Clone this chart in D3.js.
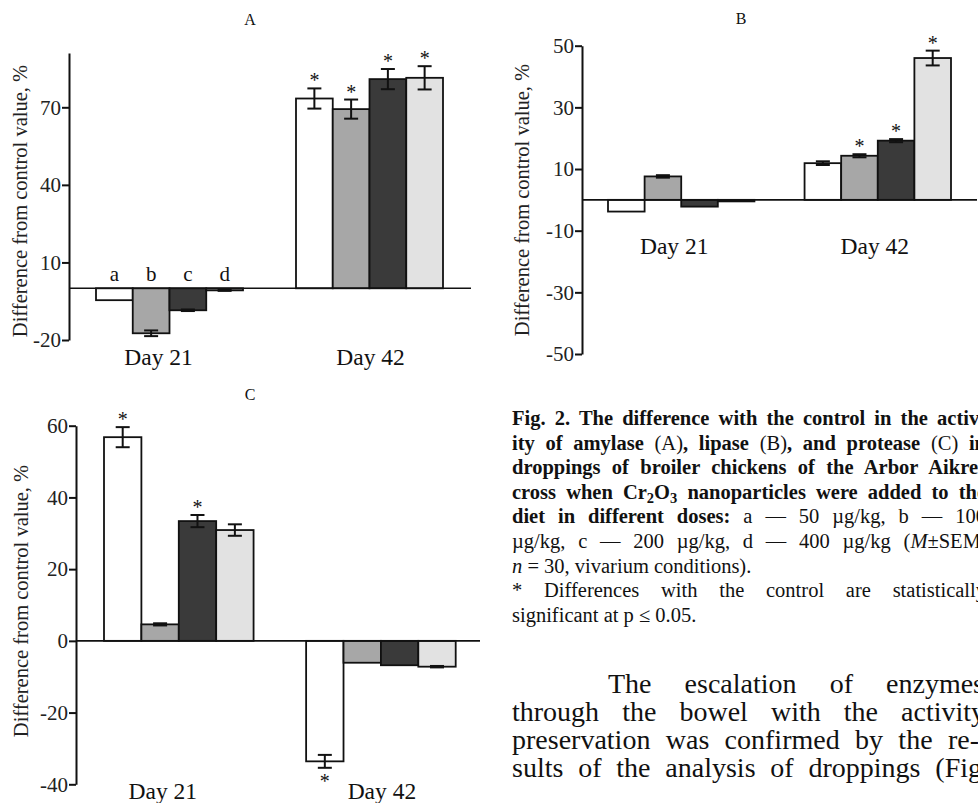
<!DOCTYPE html>
<html>
<head>
<meta charset="utf-8">
<script src="https://cdn.jsdelivr.net/npm/d3@7"></script>
<style>
  body { margin: 0; background: #fff; }
  svg { display: block; font-family: "Liberation Serif", "Times New Roman", serif; }
</style>
</head>
<body>
<svg id="fig" width="978" height="803"></svg>
<script>

// --- data (difference from control, %) ---
const days = ["Day 21", "Day 42"];
const groups = ["a", "b", "c", "d"];
const fills = ["#ffffff", "#a7a7a7", "#3a3a3a", "#e2e2e2"];

// amylase (A)
const amylaseMean = [[-4.6, -17.4, -8.5, -0.8], [73.4, 69.3, 80.9, 81.4]];
const amylaseSem  = [[0, 1.1, 0.3, 0.2], [3.9, 3.7, 3.9, 4.5]];
const amylaseSig  = [[0, 0, 0, 0], [1, 1, 1, 1]];
const amylaseTicks = [70, 40, 10, -20];

// lipase (B)
const lipaseMean = [[-3.8, 7.6, -2.2, -0.5], [11.9, 14.3, 19.2, 46.0]];
const lipaseSem  = [[0, 0.4, 0, 0], [0.6, 0.5, 0.5, 2.4]];
const lipaseSig  = [[0, 0, 0, 0], [0, 1, 1, 1]];
const lipaseTicks = [50, 30, 10, -10, -30, -50];

// protease (C)
const proteaseMean = [[56.8, 4.6, 33.4, 30.9], [-33.6, -6.1, -6.8, -7.2]];
const proteaseSem  = [[2.8, 0.3, 1.7, 1.6], [1.8, 0, 0, 0.2]];
const proteaseSig  = [[1, 0, 1, 0], [1, 0, 0, 0]];
const proteaseTicks = [60, 40, 20, 0, -20, -40];

const svg = d3.select("#fig");
const ink = "#111";
const serif = "'Liberation Serif', 'Times New Roman', serif";

const drawPanel = (cfg) => {

  const g = svg.append("g").attr("font-family", serif);

  const y = d3.scaleLinear().domain(cfg.yDomain).range(cfg.yRange);
  const x0 = d3.scaleBand().domain(days).range(cfg.xRange).paddingInner(cfg.padInner);
  const x1 = d3.scaleBand().domain(groups).range([0, x0.bandwidth()]);

  const rows = [];
  days.forEach((day, i) => groups.forEach((grp, j) => {
    rows.push({ day, grp, j, v: cfg.mean[i][j], e: cfg.sem[i][j], s: cfg.sig[i][j] });
  }));
  const cx = d => x0(d.day) + x1(d.grp) + x1.bandwidth() / 2;

  // bars
  g.selectAll("rect.bar")
    .data(rows)
    .join("rect")
      .attr("class", "bar")
      .attr("x", d => x0(d.day) + x1(d.grp))
      .attr("width", x1.bandwidth())
      .attr("y", d => y(Math.max(0, d.v)))
      .attr("height", d => Math.abs(y(d.v) - y(0)))
      .attr("fill", d => fills[d.j])
      .attr("stroke", ink)
      .attr("stroke-width", 1.8);

  // error bars (mean +/- SEM)
  const err = g.selectAll("g.err")
    .data(rows.filter(d => d.e > 0))
    .join("g")
      .attr("class", "err")
      .attr("stroke", ink)
      .attr("stroke-width", 2);

  err.append("line")
    .attr("x1", cx).attr("x2", cx)
    .attr("y1", d => y(d.v + d.e)).attr("y2", d => y(d.v - d.e));
  err.append("line")
    .attr("x1", d => cx(d) - 7).attr("x2", d => cx(d) + 7)
    .attr("y1", d => y(d.v + d.e)).attr("y2", d => y(d.v + d.e));
  err.append("line")
    .attr("x1", d => cx(d) - 7).attr("x2", d => cx(d) + 7)
    .attr("y1", d => y(d.v - d.e)).attr("y2", d => y(d.v - d.e));

  // significance stars
  g.selectAll("text.star")
    .data(rows.filter(d => d.s))
    .join("text")
      .attr("class", "star")
      .attr("x", cx)
      .attr("y", d => d.v >= 0 ? y(d.v + d.e) - 1 : y(d.v - d.e) + 20)
      .attr("text-anchor", "middle")
      .attr("font-size", 20)
      .attr("fill", ink)
      .text("*");

  // y axis
  const axis = g.append("g")
    .attr("transform", `translate(${cfg.axisX},0)`)
    .call(d3.axisLeft(y).tickValues(cfg.ticks).tickSize(7).tickSizeOuter(0).tickPadding(1).tickFormat(d => String(d)));
  axis.attr("font-family", serif).attr("font-size", 21);
  axis.select(".domain").attr("stroke", ink).attr("stroke-width", 2);
  axis.selectAll(".tick line").attr("stroke", ink).attr("stroke-width", 2);
  axis.selectAll(".tick text").attr("fill", "#222");

  // zero line
  g.append("line")
    .attr("x1", cfg.axisX).attr("x2", cfg.zeroEnd)
    .attr("y1", y(0)).attr("y2", y(0))
    .attr("stroke", ink)
    .attr("stroke-width", 1.6);

  // group labels
  g.selectAll("text.day")
    .data(days)
    .join("text")
      .attr("class", "day")
      .attr("x", (d, i) => x0(d) + x0.bandwidth() / 2 + cfg.dayDx[i])
      .attr("y", cfg.dayY)
      .attr("text-anchor", "middle")
      .attr("font-size", 23.5)
      .attr("fill", ink)
      .text(d => d);

  // letters a-d over the first group
  if (cfg.letters) {
    g.selectAll("text.letter")
      .data(groups)
      .join("text")
        .attr("class", "letter")
        .attr("x", d => x0(days[0]) + x1(d) + x1.bandwidth() / 2)
        .attr("y", cfg.letterY)
        .attr("text-anchor", "middle")
        .attr("font-size", 21)
        .attr("fill", ink)
        .text(d => d);
  }

  // y axis title
  g.append("text")
    .attr("transform", `translate(${cfg.labelX},${cfg.labelY}) rotate(-90)`)
    .attr("text-anchor", "middle")
    .attr("font-size", 20.5)
    .attr("fill", "#222")
    .text("Difference from control value, %");

  // panel title
  g.append("text")
    .attr("x", cfg.titleX).attr("y", cfg.titleY)
    .attr("text-anchor", "middle")
    .attr("font-size", 16)
    .attr("fill", ink)
    .text(cfg.title);
};

drawPanel({
  mean: amylaseMean, sem: amylaseSem, sig: amylaseSig, ticks: amylaseTicks,
  yDomain: [-20, 91], yRange: [340, 53],
  xRange: [96, 443], padInner: 0.265,
  axisX: 69, zeroEnd: 471,
  dayY: 365, dayDx: [-11, 1],
  letters: true, letterY: 281,
  labelX: 27, labelY: 201,
  title: "A", titleX: 250, titleY: 25
});

drawPanel({
  mean: lipaseMean, sem: lipaseSem, sig: lipaseSig, ticks: lipaseTicks,
  yDomain: [-50, 50], yRange: [354, 45.7],
  xRange: [608, 951], padInner: 0.255,
  axisX: 582, zeroEnd: 977,
  dayY: 254, dayDx: [-7, -3],
  letters: false,
  labelX: 529, labelY: 200,
  title: "B", titleX: 741, titleY: 24
});

drawPanel({
  mean: proteaseMean, sem: proteaseSem, sig: proteaseSig, ticks: proteaseTicks,
  yDomain: [-40, 60], yRange: [784.3, 425.7],
  xRange: [104, 455.7], padInner: 0.26,
  axisX: 76, zeroEnd: 480,
  dayY: 799, dayDx: [-16, 1],
  letters: false,
  labelX: 28, labelY: 601,
  title: "C", titleX: 250, titleY: 400
});

// --- caption and running text (justified column, clipped at page edge) ---
const captionLines = [
  [["b", "Fig. 2. The difference with the control in the activ-"]],
  [["b", "ity of amylase "], ["r", "(A)"], ["b", ", lipase "], ["r", "(B)"], ["b", ", and protease "], ["r", "(C)"], ["b", " in"]],
  [["b", "droppings of broiler chickens of the Arbor Aikres"]],
  [["b", "cross when Cr"], ["bs", "2"], ["bu", "O"], ["bs", "3"], ["bu", " nanoparticles were added to the"]],
  [["b", "diet in different doses: "], ["r", "a — 50 µg/kg, b — 100"]],
  [["r", "µg/kg, c — 200 µg/kg, d — 400 µg/kg ("], ["i", "M"], ["r", "±SEM,"]],
  [["i", "n"], ["r", " = 30, vivarium conditions)."]],
  [["r", "* Differences with the control are statistically"]],
  [["r", "significant at p ≤ 0.05."]]
];
const captionJustify = [1, 1, 1, 1, 1, 1, 0, 1, 0];

const bodyLines = [
  "The escalation of enzymes",
  "through the bowel with the activity",
  "preservation was confirmed by the re-",
  "sults of the analysis of droppings (Fig."
];
const bodyIndent = [96, 0, 0, 0];
const bodyEnd = [984, 985, 979, 989];

const justify = (node, x, right) => {
  const t = d3.select(node);
  const spaces = (t.text().match(/ /g) || []).length;
  const natural = node.getComputedTextLength();
  if (spaces) t.attr("word-spacing", Math.max(0, (right - x - natural) / spaces));
};

const capX = 512;
captionLines.forEach((segs, i) => {
  const t = svg.append("text")
    .attr("font-family", serif)
    .attr("x", capX)
    .attr("y", 425 + i * 24.6)
    .attr("font-size", 20.5)
    .attr("fill", ink);
  segs.forEach(([st, txt]) => {
    const s = t.append("tspan").text(txt);
    if (st[0] === "b") s.attr("font-weight", "bold");
    if (st === "i") s.attr("font-style", "italic");
    if (st === "bs") s.attr("font-size", 14.5).attr("dy", 4);   // subscript down
    if (st === "bu") s.attr("dy", -4);                          // back to baseline
  });
  if (captionJustify[i]) justify(t.node(), capX, 986);
});

bodyLines.forEach((line, i) => {
  const t = svg.append("text")
    .attr("font-family", serif)
    .attr("x", capX + bodyIndent[i])
    .attr("y", 693 + i * 28)
    .attr("font-size", 28)
    .attr("fill", ink)
    .text(line);
  justify(t.node(), capX + bodyIndent[i], bodyEnd[i]);
});

</script>
</body>
</html>
